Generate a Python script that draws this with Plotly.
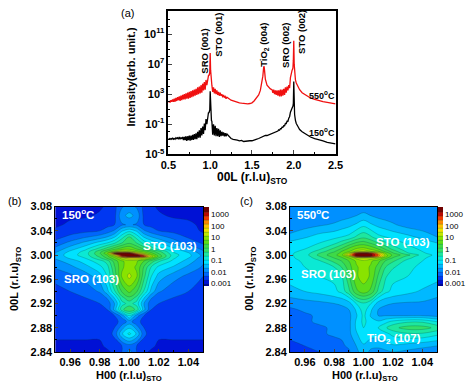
import plotly.graph_objects as go

W, H = 474, 389

# ---------- panel (a) ----------
L_axis = [0.50,0.51,0.52,0.53,0.54,0.55,0.56,0.57,0.58,0.59,
          0.60,0.61,0.62,0.63,0.64,0.65,0.66,0.67,0.68,0.69,
          0.70,0.71,0.72,0.73,0.74,0.75,0.76,0.77,0.78,0.79,
          0.80,0.81,0.82,0.83,0.84,0.85,0.86,0.87,0.88,0.89,
          0.90,0.91,0.92,0.93,0.94,0.95,0.96,0.97,0.98,
          0.985,0.99,0.995,1.0,1.005,1.01,1.015,1.02,
          1.03,1.04,1.05,1.06,1.07,1.08,1.09,1.10,1.11,1.12,1.13,1.14,1.15,1.16,1.17,1.18,1.19,1.20,
          1.25,1.275,1.30,1.325,1.35,1.375,1.40,1.425,1.45,1.475,1.50,1.525,1.55,
          1.58,1.60,1.62,1.63,1.64,1.645,1.65,1.66,1.68,1.70,1.72,1.74,
          1.75,1.76,1.77,1.78,1.79,1.80,1.81,1.82,1.83,1.84,1.85,1.86,1.87,1.88,1.89,1.90,1.91,1.92,1.93,1.94,1.95,
          1.96,1.97,1.98,1.985,1.99,1.995,2.0,2.005,2.01,2.02,2.03,2.05,2.07,2.10,2.15,2.20,2.25,2.30,2.35,2.40,2.45,2.50]
log_I_550 = [1.9,2.1,1.9,2.2,2.0,2.3,2.0,2.4,2.0,2.5,
             2.1,2.6,2.2,2.7,2.1,2.8,2.2,2.9,2.3,3.0,
             2.3,3.1,2.4,3.2,2.4,3.3,2.5,3.4,2.6,3.5,
             2.7,3.6,2.8,3.7,2.9,3.9,3.0,4.0,3.1,4.2,
             3.2,4.4,3.5,4.6,3.6,4.9,4.2,5.2,5.5,
             5.5,5.6,6.0,8.5,6.2,5.0,4.4,4.2,
             3.3,3.9,3.1,3.7,3.0,3.5,2.9,3.3,2.8,3.2,2.8,3.0,2.6,2.9,2.6,2.7,2.4,2.6,
             2.2,2.1,2.0,1.92,1.85,1.8,1.75,1.73,1.72,1.76,1.85,2.1,2.4,
             2.9,3.5,4.6,5.4,6.6,6.7,6.2,5.0,4.2,3.9,3.7,3.6,
             3.2,3.6,3.0,3.5,2.9,3.5,2.8,3.5,2.7,3.6,2.7,3.6,2.8,3.7,2.9,3.9,3.2,4.0,3.5,4.2,3.8,
             5.2,5.9,6.2,6.3,6.5,7.5,10.1,7.0,5.8,4.9,4.5,4.0,3.6,3.2,2.8,2.5,2.3,2.1,2.0,1.9,1.8,1.7]
log_I_150 = [-3.0,-2.9,-3.0,-2.9,-3.0,-2.8,-3.0,-2.9,-3.0,-2.8,
             -2.9,-2.8,-3.0,-2.7,-3.0,-2.8,-2.9,-2.7,-3.1,-2.7,
             -3.1,-2.6,-3.2,-2.6,-3.1,-2.5,-3.2,-2.5,-3.1,-2.4,
             -3.1,-2.3,-3.0,-2.2,-3.0,-2.0,-2.8,-1.8,-2.8,-1.5,
             -2.5,-1.3,-2.3,-0.9,-1.8,-0.3,-1.0,0.2,0.6,
             0.5,0.6,0.9,3.4,0.7,0.0,-0.5,-0.6,
             -2.4,-1.0,-2.5,-1.2,-2.6,-1.5,-2.6,-1.6,-2.7,-1.8,-2.6,-2.0,-2.5,-2.1,-2.6,-2.2,-2.6,-2.3,
             -2.9,-3.0,-3.0,-3.1,-3.2,-3.15,-3.3,-3.25,-3.3,-3.2,-3.2,-3.05,-3.0,
             -2.9,-2.8,-2.7,-2.6,-2.6,-2.6,-2.6,-2.5,-2.5,-2.4,-2.3,-2.2,
             -2.2,-2.1,-2.15,-2.0,-2.0,-1.9,-1.9,-1.75,-1.8,-1.6,-1.6,-1.4,-1.4,-1.2,-1.2,-0.9,-0.9,-0.6,-0.6,-0.2,0.0,
             0.6,1.0,1.2,1.3,1.4,1.8,4.7,1.5,0.3,-0.5,-0.9,-1.3,-1.7,-2.0,-2.4,-2.7,-2.9,-3.0,-3.2,-3.4,-3.5,-3.6]
a_tick_vals = [1e-5, 1e-1, 1e3, 1e7, 1e11]
a_tick_text = ["10<sup>-5</sup>", "10<sup>-1</sup>", "10<sup>3</sup>", "10<sup>7</sup>", "10<sup>11</sup>"]

# ---------- panels (b) and (c): log10 intensity ----------
H_axis = [0.95,0.96,0.97,0.98,0.985,0.99,0.995,1.0,1.005,1.01,1.015,1.02,1.03,1.04,1.05]
L_b = [2.84,2.85,2.87,2.89,2.90,2.91,2.92,2.93,2.94,2.965,2.98,2.99,2.995,2.998,3.0,3.003,3.006,3.01,3.02,3.03,3.04,3.05,3.065,3.08]
map_150 = [
 [-2.7,-2.7,-2.7,-2.7,-2.7,-2.6,-2.3,-1.8,-2.3,-2.6,-2.7,-2.7,-2.7,-2.7,-2.7],
 [-2.7,-2.7,-2.7,-2.7,-2.6,-2.5,-2.3,-2.1,-2.3,-2.5,-2.6,-2.7,-2.7,-2.7,-2.7],
 [-2.6,-2.6,-2.6,-2.6,-2.5,-2.2,-1.3,-0.8,-1.3,-2.2,-2.5,-2.6,-2.6,-2.6,-2.6],
 [-2.55,-2.55,-2.55,-2.5,-2.45,-2.4,-2.2,-1.8,-2.2,-2.4,-2.45,-2.5,-2.55,-2.55,-2.6],
 [-2.5,-2.5,-2.5,-2.45,-2.4,-2.3,-1.8,-0.9,-1.8,-2.3,-2.4,-2.45,-2.5,-2.5,-2.5],
 [-2.5,-2.5,-2.4,-2.4,-2.3,-1.5,-0.3,0.1,-0.3,-1.5,-2.3,-2.4,-2.4,-2.5,-2.5],
 [-2.5,-2.4,-2.4,-2.3,-2.2,-1.6,-0.7,-0.4,-0.7,-1.6,-2.2,-2.3,-2.4,-2.4,-2.5],
 [-2.4,-2.4,-2.3,-2.2,-1.9,-1.2,-0.3,0.1,-0.3,-1.2,-1.9,-2.2,-2.3,-2.4,-2.5],
 [-2.4,-2.3,-2.2,-1.9,-1.4,-0.6,0.2,0.6,0.2,-0.6,-1.4,-1.9,-2.2,-2.3,-2.4],
 [-2.2,-2.05,-1.8,-1.4,-0.9,-0.1,0.9,1.3,0.9,-0.1,-0.9,-1.4,-1.8,-2.05,-2.3],
 [-1.9,-1.7,-1.4,-1.0,-0.7,0.1,0.8,1.0,0.8,0.1,-0.6,-1.0,-1.3,-1.7,-2.0],
 [-1.7,-1.45,-1.1,-0.7,-0.4,0.3,0.8,1.0,0.9,0.5,0.0,-0.5,-1.0,-1.4,-1.9],
 [-1.55,-1.2,-0.9,-0.3,0.2,0.7,1.4,1.9,1.9,1.5,0.8,0.1,-0.85,-1.25,-1.8],
 [-1.5,-1.1,-0.8,-0.1,0.4,1.1,3.0,3.5,3.5,3.1,1.4,0.4,-0.8,-1.15,-1.7],
 [-1.5,-1.05,-0.75,0.0,0.5,1.7,3.5,3.6,3.5,2.4,1.0,0.3,-0.75,-1.15,-1.7],
 [-1.55,-1.1,-0.75,0.1,0.8,3.3,3.6,3.5,2.2,1.2,0.6,0.1,-0.85,-1.2,-1.8],
 [-1.7,-1.2,-0.8,0.0,0.5,1.0,1.6,1.4,1.0,0.7,0.3,-0.1,-0.95,-1.35,-1.9],
 [-1.85,-1.4,-1.0,-0.4,0.0,0.4,0.7,0.8,0.5,0.1,-0.3,-0.7,-1.15,-1.6,-2.05],
 [-2.15,-1.85,-1.5,-1.1,-0.9,-0.6,-0.2,0.1,-0.2,-0.7,-1.0,-1.25,-1.7,-2.1,-2.35],
 [-2.45,-2.2,-2.0,-1.8,-1.6,-1.3,-0.7,-0.2,-0.7,-1.3,-1.6,-1.8,-2.1,-2.35,-2.55],
 [-2.6,-2.5,-2.4,-2.3,-2.15,-1.9,-1.3,-1.0,-1.3,-1.9,-2.15,-2.3,-2.4,-2.5,-2.7],
 [-2.7,-2.6,-2.5,-2.5,-2.4,-2.3,-2.0,-1.9,-2.0,-2.3,-2.4,-2.5,-2.5,-2.6,-2.7],
 [-2.8,-2.7,-2.7,-2.6,-2.5,-2.4,-1.7,-1.5,-1.7,-2.4,-2.5,-2.6,-2.7,-2.7,-2.8],
 [-2.8,-2.8,-2.7,-2.7,-2.6,-2.4,-2.0,-1.8,-2.0,-2.4,-2.6,-2.7,-2.7,-2.8,-2.8],
]
L_c = [2.84,2.85,2.87,2.88,2.89,2.90,2.91,2.92,2.93,2.94,2.965,2.98,2.99,2.995,2.998,3.0,3.003,3.006,3.01,3.02,3.03,3.05,3.065,3.08]
map_550 = [
 [-2.4,-2.4,-2.3,-2.2,-2.1,-2.0,-1.7,-1.4,-1.7,-1.8,-1.7,-1.6,-1.7,-1.8,-1.9],
 [-2.4,-2.3,-2.2,-2.1,-2.0,-1.9,-1.6,-1.3,-1.5,-1.5,-1.4,-1.3,-1.4,-1.5,-1.6],
 [-2.2,-2.1,-2.0,-1.9,-1.9,-1.7,-1.3,-1.0,-1.1,-1.1,-1.0,-0.8,-0.6,-0.6,-0.8],
 [-2.2,-2.1,-2.0,-1.9,-1.8,-1.7,-1.2,-0.9,-1.0,-0.9,-0.6,-0.3,-0.05,-0.05,-0.3],
 [-2.1,-2.0,-1.9,-1.8,-1.8,-1.7,-1.2,-0.8,-1.1,-1.2,-1.0,-0.8,-0.6,-0.6,-0.9],
 [-2.1,-2.0,-1.9,-1.8,-1.8,-1.7,-1.3,-0.8,-1.3,-1.6,-1.6,-1.6,-1.6,-1.6,-1.7],
 [-2.0,-1.9,-1.8,-1.75,-1.7,-1.6,-1.2,-0.7,-1.2,-1.6,-1.7,-1.7,-1.7,-1.7,-1.8],
 [-1.85,-1.75,-1.7,-1.6,-1.55,-1.4,-0.9,-0.6,-0.9,-1.4,-1.55,-1.6,-1.65,-1.65,-1.75],
 [-1.6,-1.5,-1.4,-1.3,-1.2,-0.9,-0.2,0.0,-0.2,-0.9,-1.2,-1.3,-1.4,-1.5,-1.6],
 [-1.4,-1.25,-1.15,-1.0,-0.8,-0.3,0.4,0.7,0.4,-0.3,-0.8,-1.0,-1.15,-1.3,-1.5],
 [-1.05,-0.95,-0.9,-0.8,-0.6,0.1,0.8,1.0,0.8,0.1,-0.5,-0.8,-0.9,-1.0,-1.1],
 [-1.0,-0.9,-0.8,-0.55,-0.2,0.35,0.8,1.0,0.8,0.35,-0.2,-0.5,-0.85,-0.95,-1.05],
 [-1.0,-0.85,-0.6,-0.1,0.15,0.5,0.9,1.1,0.9,0.6,0.1,-0.15,-0.7,-0.9,-1.05],
 [-0.95,-0.8,-0.35,0.15,0.4,0.8,1.3,1.5,1.4,1.2,0.6,0.1,-0.45,-0.85,-1.05],
 [-0.95,-0.75,-0.2,0.3,0.6,1.2,3.2,3.5,3.3,2.4,1.0,0.3,-0.3,-0.8,-1.0],
 [-0.95,-0.7,-0.1,0.4,0.7,2.0,3.6,3.7,3.5,2.6,1.0,0.4,-0.1,-0.7,-1.0],
 [-0.95,-0.75,-0.2,0.3,0.6,1.3,3.2,3.5,3.2,2.0,0.8,0.2,-0.5,-0.85,-1.05],
 [-1.0,-0.8,-0.4,0.1,0.5,0.8,1.3,1.5,1.2,0.9,0.4,0.0,-0.65,-0.9,-1.05],
 [-1.0,-0.9,-0.6,-0.1,0.2,0.6,0.9,1.0,0.8,0.5,0.1,-0.3,-0.8,-0.95,-1.1],
 [-1.15,-1.0,-0.9,-0.65,-0.4,-0.1,0.2,0.3,0.1,-0.2,-0.5,-0.75,-0.95,-1.05,-1.25],
 [-1.5,-1.3,-1.1,-1.0,-0.9,-0.8,-0.5,-0.3,-0.5,-0.8,-0.9,-1.0,-1.15,-1.35,-1.6],
 [-1.85,-1.75,-1.65,-1.55,-1.45,-1.35,-1.2,-1.0,-1.2,-1.35,-1.45,-1.55,-1.75,-1.85,-1.95],
 [-1.9,-1.85,-1.85,-1.8,-1.75,-1.7,-1.6,-1.5,-1.6,-1.7,-1.75,-1.8,-1.85,-1.9,-1.95],
 [-1.85,-1.85,-1.85,-1.85,-1.85,-1.85,-1.85,-1.8,-1.85,-1.85,-1.85,-1.85,-1.9,-1.9,-1.9],
]
cbar_vals = [-3, -2, -1, 0, 1, 2, 3]
cbar_text = ["0.001", "0.01", "0.1", "1", "10", "100", "1000"]
map_ticks_x = [0.96, 0.98, 1.00, 1.02, 1.04]
map_ticks_y = [2.84, 2.88, 2.92, 2.96, 3.00, 3.04, 3.08]

Z0, Z1 = -3.2, 3.7
stops = [(-3.2,"#00009a"),(-3,"#0000c8"),(-2.5,"#0034f0"),(-2,"#0074ff"),(-1.5,"#00acff"),
         (-1,"#00e4ff"),(-0.5,"#10ecc0"),(0,"#30e070"),(0.5,"#40d840"),(1,"#70e000"),
         (1.5,"#c0e800"),(2,"#ffe000"),(2.5,"#ffa000"),(3,"#f03000"),(3.4,"#b00000"),(3.7,"#700000")]
cscale = [[(v-Z0)/(Z1-Z0), c] for v, c in stops]

FONT = "Liberation Sans"

def fx(p): return p / W
def fy(p): return 1 - p / H

def dom(l, r, t, b):
    return [fx(l), fx(r)], [fy(b), fy(t)]

fig = go.Figure()
fig.add_trace(go.Scatter(x=L_axis, y=[10**v for v in log_I_150], mode="lines",
                         line=dict(color="black", width=1.3), xaxis="x", yaxis="y", showlegend=False))
fig.add_trace(go.Scatter(x=L_axis, y=[10**v for v in log_I_550], mode="lines",
                         line=dict(color="#f01010", width=1.3), xaxis="x", yaxis="y", showlegend=False))

def contour(z, y, xa, ya, cb_left):
    return go.Contour(x=H_axis, y=y, z=z, xaxis=xa, yaxis=ya, zmin=Z0, zmax=Z1,
                      colorscale=cscale, line=dict(width=0.5, color="rgba(0,70,60,0.5)"),
                      contours=dict(start=-3.0, end=3.6, size=0.35, coloring="fill"),
                      colorbar=dict(x=fx(cb_left), xanchor="left", xpad=0, ypad=0,
                                    y=fy(207), yanchor="top", len=82/H, lenmode="fraction",
                                    thickness=5, thicknessmode="pixels", outlinewidth=0,
                                    tickmode="array", tickvals=cbar_vals, ticktext=cbar_text,
                                    ticks="", tickfont=dict(family=FONT, size=8, color="black")))

fig.add_trace(contour(map_150, L_b, "x2", "y2", 203))
fig.add_trace(contour(map_550, L_c, "x3", "y3", 445))

dax, day = dom(166, 339, 5, 153)
dbx, dby = dom(49, 202, 207, 357)
dcx, dcy = dom(292, 444, 207, 357)

tf = dict(family=FONT, size=11, color="black", weight="bold")
common = dict(showline=True, mirror=True, linecolor="black", showgrid=False, zeroline=False, tickfont=tf)
mapx = dict(common, range=[0.95, 1.05], tickmode="array", tickvals=map_ticks_x, tickformat=".2f",
            ticks="inside", ticklen=3, tickwidth=1, linewidth=1.2,
            minor=dict(ticks="inside", ticklen=2, dtick=0.01, tick0=0.95, tickcolor="black"))
mapy = dict(common, range=[2.84, 3.08], tickmode="array", tickvals=map_ticks_y, tickformat=".2f",
            ticks="inside", ticklen=3, tickwidth=1, linewidth=1.2,
            minor=dict(ticks="inside", ticklen=2, dtick=0.02, tick0=2.84, tickcolor="black"))

fig.update_layout(
    width=W, height=H, margin=dict(l=0, r=0, t=0, b=0), paper_bgcolor="white", plot_bgcolor="white",
    xaxis=dict(common, domain=dax, anchor="y", range=[0.5, 2.5], tickvals=[0.5, 1, 1.5, 2, 2.5],
               ticktext=["0.5", "1.0", "1.5", "2.0", "2.5"], tickmode="array", ticks="inside",
               ticklen=4, tickwidth=1.3, linewidth=1.6,
               minor=dict(ticks="inside", ticklen=2, dtick=0.25, tick0=0.5, tickcolor="black")),
    yaxis=dict(common, domain=day, anchor="x", type="log", range=[-5, 14.1], tickmode="array",
               tickvals=a_tick_vals, ticktext=a_tick_text, ticks="inside", ticklen=4,
               tickwidth=1.3, linewidth=1.6,
               minor=dict(ticks="inside", ticklen=2, dtick=1, tickcolor="black")),
    xaxis2=dict(mapx, domain=dbx, anchor="y2"),
    yaxis2=dict(mapy, domain=dby, anchor="x2"),
    xaxis3=dict(mapx, domain=dcx, anchor="y3"),
    yaxis3=dict(mapy, domain=dcy, anchor="x3"),
)

def note(text, px, py, size=9, color="black", bold=True, angle=0):
    fig.add_annotation(text=text, x=fx(px), y=fy(py), xref="paper", yref="paper", showarrow=False,
                       xanchor="center", yanchor="middle", textangle=angle,
                       font=dict(family=FONT, size=size, color=color, weight="bold" if bold else "normal"))

STO = "<sub>STO</sub>"
note("(a)", 124, 7, 11, bold=False)
note("SRO (001)", 203, 47, 9.5, angle=-90)
note("STO (001)", 217, 30, 9.5, angle=-90)
note("TiO<sub>2</sub> (004)", 265, 40, 9.5, angle=-90)
note("SRO (002)", 287, 41, 9.5, angle=-90)
note("STO (002)", 303, 27, 9.5, angle=-90)
note("550<sup>o</sup>C", 325, 92, 9)
note("150<sup>o</sup>C", 325, 130, 9)
note("Intensity(arb. unit.)", 127, 73, 11, angle=-90)
note("00L (r.l.u)" + STO, 253, 177, 12)

note("(b)", 7, 201, 11, bold=False)
note("00L (r.l.u)" + STO, 8, 282, 11, angle=-90)
note("H00 (r.l.u)" + STO, 125, 382, 11)
note("150<sup>o</sup>C", 72, 215, 11.5, "white")
note("STO (103)", 168, 248, 11.5, "white")
note("SRO (103)", 86, 282, 11.5, "white")

note("(c)", 247, 201, 11, bold=False)
note("00L (r.l.u)" + STO, 251, 282, 11, angle=-90)
note("H00 (r.l.u)" + STO, 369, 382, 11)
note("550<sup>o</sup>C", 316, 215, 11.5, "white")
note("STO (103)", 409, 244, 11.5, "white")
note("SRO (103)", 332, 277, 11.5, "white")
note("TiO<sub>2</sub> (107)", 399, 344, 11.5, "white")

fig.write_html("out.html", config={"displayModeBar": False},
               post_script="document.body.style.margin='0';document.body.style.overflow='hidden';")
